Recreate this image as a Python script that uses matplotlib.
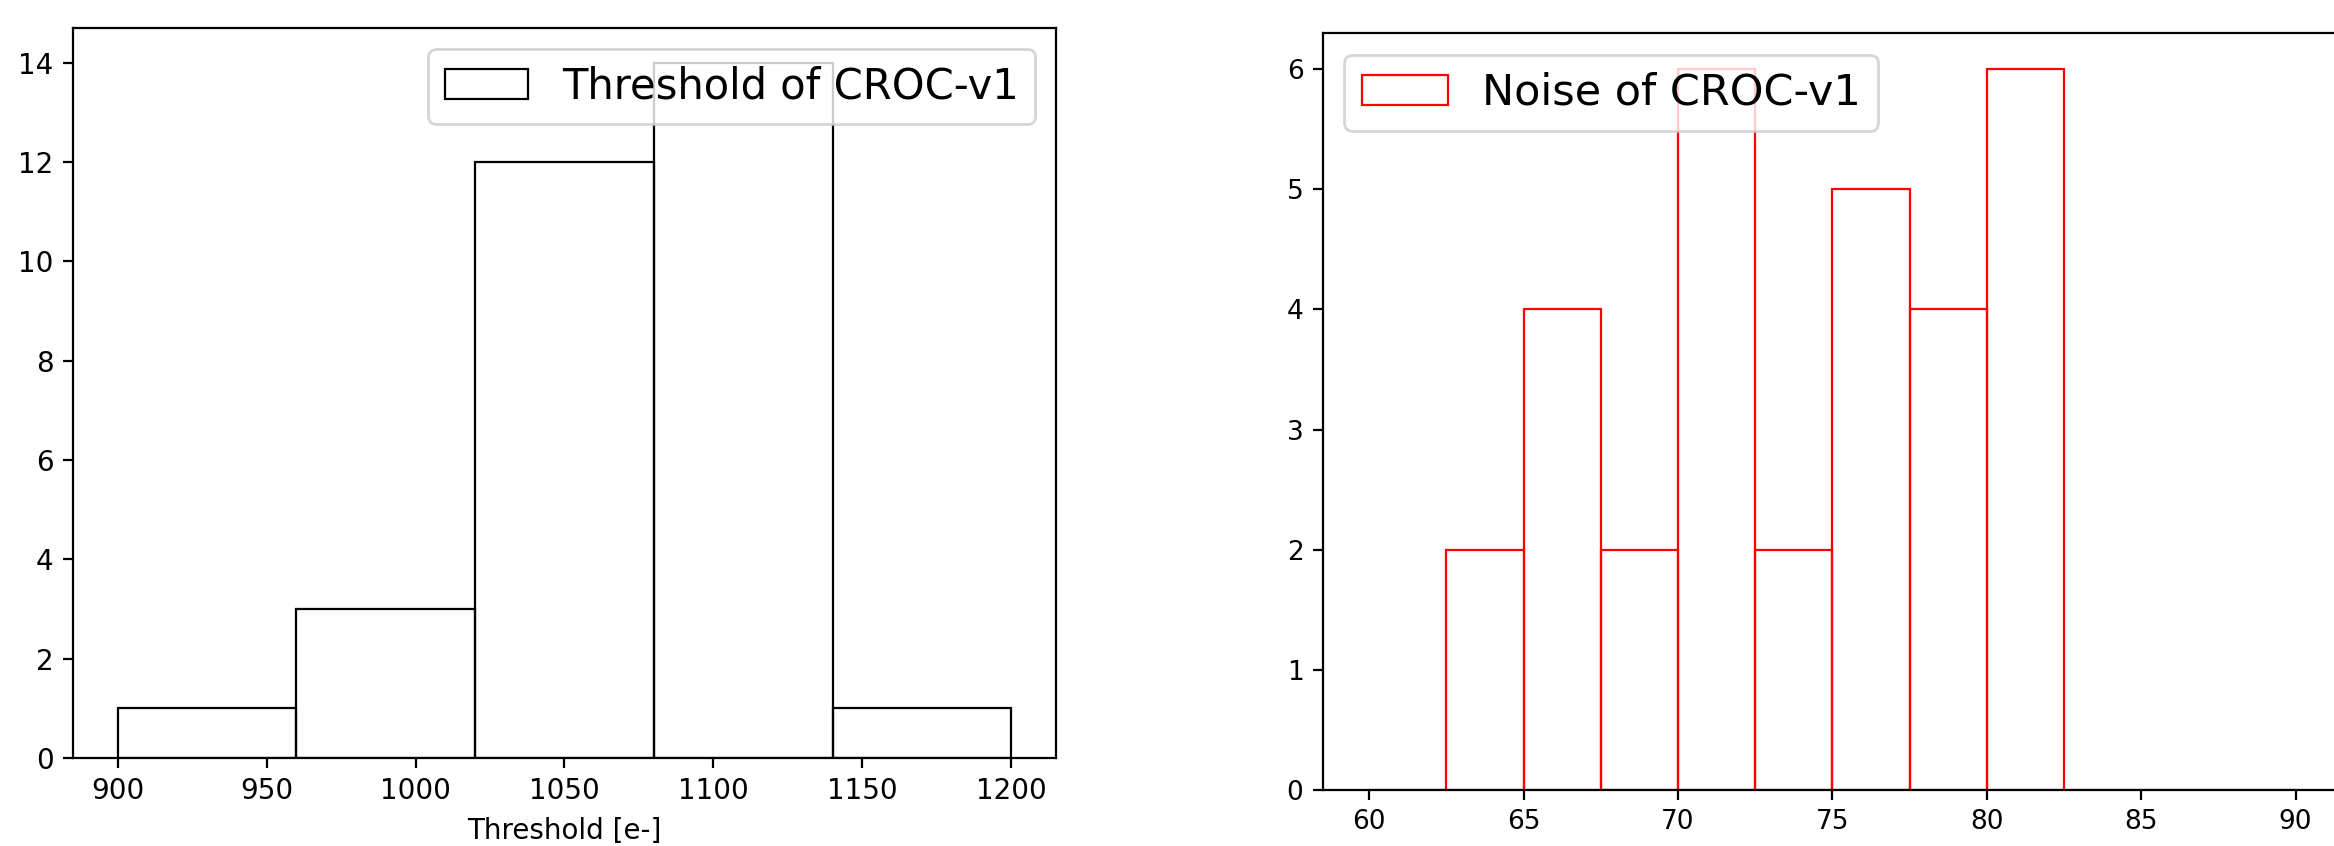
import numpy as np
import matplotlib
matplotlib.use("Agg")
import matplotlib.pyplot as plt

# Seuils (threshold) CROC-v1
threshold_edges = [900, 960, 1020, 1080, 1140, 1200]
threshold_counts = [1, 3, 12, 14, 1]

# Bruit (noise) CROC-v1
noise_edges = [60, 62.5, 65, 67.5, 70, 72.5, 75, 77.5, 80, 82.5, 85, 87.5, 90]
noise_counts = [0, 2, 4, 2, 6, 2, 5, 4, 6, 0, 0, 0]

fig = plt.figure(figsize=(11.67, 4.23), dpi=200)

# histogramme des seuils
ax1 = fig.add_axes([0.0313, 0.104, 0.4211, 0.8629])
ax1.hist(threshold_edges[:-1], bins=threshold_edges, weights=threshold_counts,
         fill=False, edgecolor='black', linewidth=0.8, label='Threshold of CROC-v1')
ax1.set_xlabel('Threshold [e-]', fontsize=10)
ax1.tick_params(labelsize=10)
ax1.legend(loc='upper right', fontsize=15)

# histogramme du bruit
ax2 = fig.add_axes([0.5668, 0.0662, 0.4366, 0.8948])
ax2.hist(noise_edges[:-1], bins=noise_edges, weights=noise_counts,
         fill=False, edgecolor='red', linewidth=0.8, label='Noise of CROC-v1')
ax2.tick_params(labelsize=9.5)
ax2.legend(loc='upper left', fontsize=15.5)

fig.savefig('out.png', dpi=200)
